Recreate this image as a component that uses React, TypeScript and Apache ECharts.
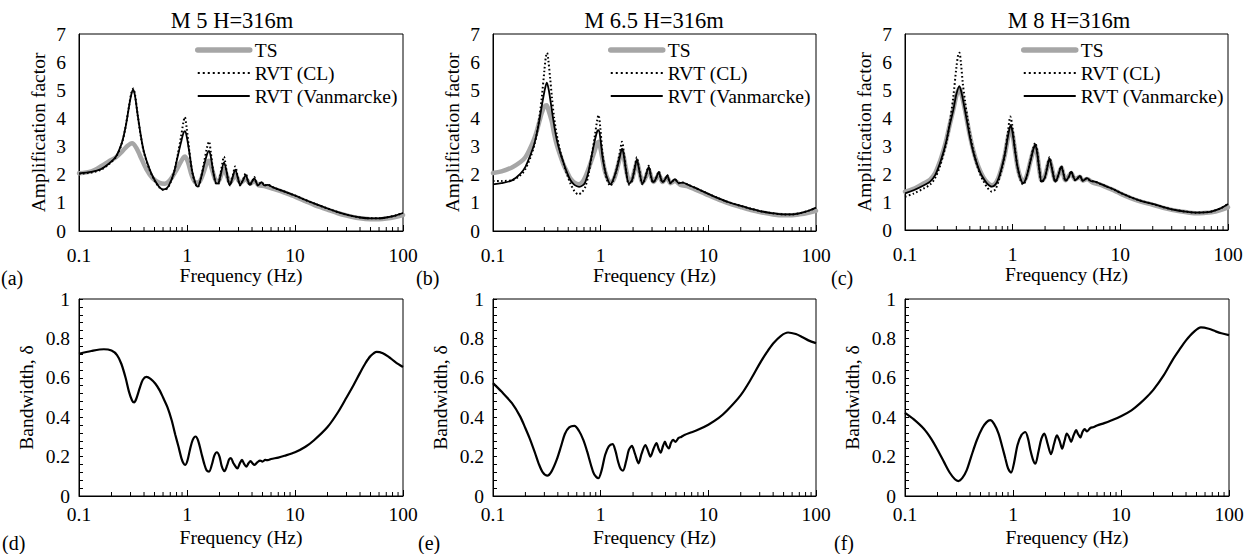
import React, { useEffect, useRef } from 'react';
import * as echarts from 'echarts';

const FONT = 'Liberation Serif';

const titles = ['M 5 H=316m', 'M 6.5 H=316m', 'M 8 H=316m'];
const panelLabels = ['(a)', '(b)', '(c)', '(d)', '(e)', '(f)'];
const seriesNames = ['TS', 'RVT (CL)', 'RVT (Vanmarcke)'];
const xAxisName = 'Frequency (Hz)';
const topYName = 'Amplification factor';
const bottomYName = 'Bandwidth, δ';
const minorTicks = [0.2, 0.3, 0.4, 0.5, 0.6, 0.7, 0.8, 0.9, 2, 3, 4, 5, 6, 7, 8, 9, 20, 30, 40, 50, 60, 70, 80, 90];

type P = [number, number][];

// ---- M 5 ----
const m5TS: P = [[0.1, 2.05], [0.13, 2.12], [0.16, 2.3], [0.19, 2.48], [0.22, 2.62], [0.25, 2.82], [0.28, 3.02], [0.31, 3.12], [0.34, 2.95], [0.37, 2.65], [0.42, 2.2], [0.48, 1.88], [0.55, 1.72], [0.62, 1.68], [0.7, 1.82], [0.78, 2.1], [0.86, 2.4], [0.93, 2.62], [0.96, 2.65], [1.02, 2.45], [1.1, 2.0], [1.2, 1.72], [1.28, 1.72], [1.4, 2.0], [1.52, 2.4], [1.6, 2.5], [1.7, 2.2], [1.85, 1.78], [1.95, 1.76], [2.1, 2.05], [2.2, 2.2], [2.35, 1.95], [2.5, 1.72], [2.65, 1.85], [2.8, 2.0], [3.0, 1.8], [3.15, 1.72], [3.5, 1.85], [3.85, 1.68], [4.2, 1.78], [4.6, 1.62], [5.2, 1.6], [6, 1.52], [7, 1.44], [8, 1.36], [10, 1.22], [12.5, 1.06], [15, 0.93], [20, 0.76], [25, 0.63], [30, 0.55], [40, 0.45], [50, 0.42], [60, 0.42], [70, 0.44], [85, 0.5], [100, 0.57]];
const m5CL: P = [[0.1, 2.03], [0.13, 2.08], [0.16, 2.18], [0.19, 2.38], [0.22, 2.63], [0.25, 3.13], [0.27, 3.7], [0.29, 4.42], [0.305, 4.9], [0.318, 5.06], [0.33, 4.85], [0.35, 4.1], [0.375, 3.33], [0.4, 2.78], [0.45, 2.18], [0.5, 1.8], [0.55, 1.56], [0.6, 1.46], [0.65, 1.5], [0.7, 1.7], [0.76, 2.1], [0.82, 2.7], [0.88, 3.35], [0.93, 3.9], [0.955, 4.05], [0.99, 3.7], [1.05, 2.85], [1.12, 2.08], [1.2, 1.66], [1.26, 1.56], [1.34, 1.85], [1.44, 2.45], [1.54, 3.0], [1.6, 3.18], [1.66, 2.8], [1.76, 2.05], [1.88, 1.66], [1.96, 1.68], [2.08, 2.2], [2.2, 2.64], [2.3, 2.25], [2.42, 1.74], [2.5, 1.62], [2.62, 1.87], [2.8, 2.29], [2.95, 1.92], [3.1, 1.62], [3.28, 1.8], [3.5, 2.05], [3.65, 1.8], [3.82, 1.63], [4.0, 1.76], [4.2, 1.92], [4.35, 1.75], [4.55, 1.62], [4.9, 1.75], [5.2, 1.62], [5.6, 1.64], [6.2, 1.56], [7, 1.48], [8, 1.4], [10, 1.26], [12.5, 1.1], [15, 0.98], [20, 0.8], [25, 0.67], [30, 0.58], [40, 0.48], [50, 0.45], [60, 0.45], [70, 0.48], [85, 0.55], [100, 0.64]];
const m5Van: P = [[0.1, 2.05], [0.13, 2.1], [0.16, 2.2], [0.19, 2.4], [0.22, 2.65], [0.25, 3.15], [0.27, 3.7], [0.29, 4.4], [0.305, 4.85], [0.318, 5.02], [0.33, 4.8], [0.35, 4.1], [0.375, 3.35], [0.4, 2.8], [0.45, 2.2], [0.5, 1.82], [0.55, 1.58], [0.6, 1.48], [0.65, 1.52], [0.7, 1.72], [0.76, 2.1], [0.82, 2.65], [0.88, 3.15], [0.93, 3.5], [0.96, 3.55], [1.0, 3.3], [1.05, 2.8], [1.12, 2.1], [1.2, 1.68], [1.26, 1.58], [1.34, 1.85], [1.44, 2.35], [1.54, 2.75], [1.6, 2.85], [1.67, 2.6], [1.76, 2.05], [1.88, 1.68], [1.96, 1.7], [2.08, 2.1], [2.2, 2.44], [2.3, 2.2], [2.42, 1.75], [2.5, 1.64], [2.62, 1.85], [2.8, 2.18], [2.95, 1.9], [3.1, 1.64], [3.28, 1.78], [3.5, 1.99], [3.65, 1.8], [3.82, 1.64], [4.0, 1.75], [4.2, 1.88], [4.35, 1.75], [4.55, 1.62], [4.9, 1.74], [5.2, 1.62], [5.6, 1.64], [6.2, 1.56], [7, 1.48], [8, 1.4], [10, 1.26], [12.5, 1.1], [15, 0.98], [20, 0.8], [25, 0.67], [30, 0.58], [40, 0.48], [50, 0.45], [60, 0.45], [70, 0.48], [85, 0.55], [100, 0.64]];

// ---- M 6.5 ----
const m65TS: P = [[0.1, 2.06], [0.12, 2.12], [0.15, 2.26], [0.18, 2.45], [0.2, 2.62], [0.222, 2.95], [0.24, 3.25], [0.255, 3.55], [0.27, 3.9], [0.284, 4.2], [0.3, 4.42], [0.315, 4.47], [0.33, 4.25], [0.352, 3.88], [0.37, 3.45], [0.392, 3.05], [0.42, 2.7], [0.454, 2.34], [0.49, 2.08], [0.525, 1.86], [0.57, 1.72], [0.63, 1.66], [0.68, 1.75], [0.72, 1.92], [0.77, 2.2], [0.82, 2.5], [0.88, 2.85], [0.93, 3.12], [0.96, 3.17], [1.0, 2.9], [1.04, 2.55], [1.1, 2.1], [1.18, 1.8], [1.25, 1.72], [1.33, 1.85], [1.43, 2.25], [1.52, 2.65], [1.58, 2.87], [1.64, 2.62], [1.75, 2.05], [1.85, 1.74], [1.95, 1.82], [2.07, 2.18], [2.17, 2.45], [2.28, 2.15], [2.45, 1.72], [2.6, 1.88], [2.8, 2.18], [2.95, 1.9], [3.1, 1.74], [3.47, 2.0], [3.75, 1.74], [4.15, 1.9], [4.45, 1.7], [4.9, 1.78], [5.5, 1.64], [6.5, 1.58], [7.5, 1.48], [9, 1.35], [10, 1.27], [12.5, 1.11], [15, 1.0], [20, 0.85], [25, 0.74], [30, 0.67], [40, 0.59], [50, 0.56], [60, 0.56], [70, 0.59], [85, 0.65], [100, 0.72]];
const m65CL: P = [[0.1, 1.78], [0.12, 1.78], [0.15, 1.8], [0.18, 1.98], [0.2, 2.2], [0.222, 2.6], [0.24, 3.0], [0.255, 3.45], [0.27, 4.05], [0.284, 4.75], [0.3, 5.7], [0.31, 6.2], [0.318, 6.33], [0.326, 6.1], [0.34, 5.4], [0.352, 4.77], [0.37, 4.0], [0.392, 3.4], [0.42, 2.85], [0.454, 2.38], [0.49, 1.98], [0.525, 1.68], [0.57, 1.42], [0.62, 1.3], [0.67, 1.38], [0.72, 1.57], [0.77, 2.0], [0.82, 2.6], [0.88, 3.35], [0.93, 3.95], [0.955, 4.12], [0.99, 3.7], [1.04, 2.75], [1.09, 2.2], [1.14, 1.85], [1.23, 1.6], [1.3, 1.76], [1.4, 2.16], [1.5, 2.75], [1.58, 3.17], [1.64, 2.8], [1.72, 2.15], [1.83, 1.65], [1.95, 1.78], [2.07, 2.25], [2.17, 2.62], [2.27, 2.22], [2.45, 1.66], [2.6, 1.9], [2.8, 2.32], [2.93, 1.95], [3.07, 1.72], [3.25, 1.85], [3.47, 2.12], [3.6, 1.9], [3.75, 1.73], [3.95, 1.82], [4.15, 1.99], [4.3, 1.82], [4.45, 1.7], [4.9, 1.84], [5.3, 1.7], [5.8, 1.72], [6.5, 1.64], [7.5, 1.54], [9, 1.4], [10, 1.32], [12.5, 1.16], [15, 1.04], [20, 0.89], [25, 0.79], [30, 0.71], [40, 0.63], [50, 0.59], [60, 0.59], [70, 0.63], [85, 0.72], [100, 0.82]];
const m65Van: P = [[0.1, 1.66], [0.12, 1.7], [0.15, 1.8], [0.18, 2.04], [0.2, 2.28], [0.222, 2.69], [0.24, 3.05], [0.255, 3.46], [0.27, 3.95], [0.284, 4.45], [0.3, 4.95], [0.316, 5.27], [0.33, 5.0], [0.352, 4.29], [0.37, 3.75], [0.392, 3.23], [0.42, 2.8], [0.454, 2.4], [0.49, 2.05], [0.525, 1.8], [0.57, 1.64], [0.63, 1.57], [0.68, 1.62], [0.72, 1.74], [0.77, 2.1], [0.82, 2.63], [0.88, 3.2], [0.93, 3.55], [0.96, 3.58], [1.0, 3.2], [1.04, 2.63], [1.09, 2.2], [1.14, 1.92], [1.23, 1.66], [1.3, 1.8], [1.4, 2.16], [1.5, 2.6], [1.58, 2.93], [1.64, 2.7], [1.72, 2.15], [1.83, 1.68], [1.95, 1.8], [2.07, 2.2], [2.17, 2.54], [2.27, 2.2], [2.45, 1.68], [2.6, 1.9], [2.8, 2.28], [2.93, 1.95], [3.07, 1.74], [3.25, 1.85], [3.47, 2.1], [3.6, 1.9], [3.75, 1.74], [3.95, 1.82], [4.15, 1.98], [4.3, 1.82], [4.45, 1.71], [4.9, 1.84], [5.3, 1.7], [5.8, 1.72], [6.5, 1.64], [7.5, 1.54], [9, 1.4], [10, 1.32], [12.5, 1.16], [15, 1.04], [20, 0.89], [25, 0.79], [30, 0.71], [40, 0.63], [50, 0.59], [60, 0.59], [70, 0.63], [85, 0.72], [100, 0.83]];

// ---- M 8 ----
const m8TS: P = [[0.1, 1.37], [0.12, 1.47], [0.15, 1.67], [0.171, 1.8], [0.19, 2.02], [0.211, 2.45], [0.228, 2.85], [0.243, 3.25], [0.26, 3.75], [0.281, 4.3], [0.3, 4.8], [0.32, 5.06], [0.335, 4.85], [0.36, 4.3], [0.38, 3.82], [0.4, 3.38], [0.43, 2.85], [0.464, 2.42], [0.5, 2.1], [0.535, 1.88], [0.58, 1.7], [0.64, 1.6], [0.69, 1.66], [0.74, 1.88], [0.8, 2.3], [0.85, 2.72], [0.91, 3.35], [0.96, 3.65], [1.0, 3.4], [1.05, 2.85], [1.11, 2.25], [1.18, 1.88], [1.25, 1.72], [1.34, 1.9], [1.45, 2.4], [1.56, 2.85], [1.62, 2.98], [1.69, 2.72], [1.77, 2.15], [1.86, 1.77], [1.98, 1.88], [2.1, 2.25], [2.2, 2.5], [2.3, 2.25], [2.5, 1.77], [2.65, 1.95], [2.83, 2.22], [3.1, 1.78], [3.5, 2.03], [3.8, 1.8], [4.2, 1.9], [4.5, 1.76], [4.9, 1.82], [5.5, 1.7], [6.5, 1.62], [7.5, 1.52], [9, 1.39], [10, 1.3], [12.5, 1.14], [15, 1.03], [20, 0.9], [25, 0.79], [30, 0.72], [40, 0.64], [50, 0.6], [60, 0.61], [70, 0.63], [85, 0.71], [100, 0.81]];
const m8CL: P = [[0.1, 1.19], [0.12, 1.3], [0.15, 1.49], [0.171, 1.62], [0.19, 1.85], [0.211, 2.27], [0.228, 2.72], [0.243, 3.15], [0.26, 3.8], [0.281, 4.76], [0.3, 5.8], [0.313, 6.3], [0.32, 6.33], [0.33, 6.0], [0.345, 5.2], [0.36, 4.64], [0.38, 4.0], [0.4, 3.45], [0.43, 2.85], [0.464, 2.35], [0.5, 1.98], [0.535, 1.75], [0.58, 1.52], [0.64, 1.37], [0.69, 1.45], [0.74, 1.75], [0.8, 2.25], [0.85, 2.75], [0.91, 3.6], [0.95, 4.05], [0.99, 3.75], [1.05, 2.9], [1.11, 2.25], [1.18, 1.8], [1.25, 1.62], [1.34, 1.85], [1.45, 2.42], [1.56, 2.95], [1.62, 3.12], [1.69, 2.8], [1.77, 2.15], [1.86, 1.7], [1.98, 1.83], [2.1, 2.28], [2.2, 2.6], [2.3, 2.27], [2.42, 1.85], [2.5, 1.72], [2.65, 1.95], [2.83, 2.28], [2.97, 2.0], [3.1, 1.75], [3.3, 1.88], [3.5, 2.1], [3.65, 1.92], [3.8, 1.78], [4.0, 1.84], [4.2, 1.94], [4.35, 1.84], [4.5, 1.76], [4.9, 1.85], [5.3, 1.75], [5.8, 1.73], [6.5, 1.65], [7.5, 1.55], [9, 1.42], [10, 1.33], [12.5, 1.17], [15, 1.06], [20, 0.93], [25, 0.82], [30, 0.74], [40, 0.66], [50, 0.62], [60, 0.63], [70, 0.66], [85, 0.77], [100, 0.93]];
const m8Van: P = [[0.1, 1.31], [0.12, 1.42], [0.15, 1.6], [0.171, 1.73], [0.19, 1.95], [0.211, 2.38], [0.228, 2.8], [0.243, 3.21], [0.26, 3.75], [0.281, 4.29], [0.3, 4.85], [0.32, 5.14], [0.335, 4.9], [0.36, 4.29], [0.38, 3.8], [0.4, 3.33], [0.43, 2.8], [0.464, 2.38], [0.5, 2.05], [0.535, 1.85], [0.58, 1.66], [0.64, 1.55], [0.69, 1.62], [0.74, 1.85], [0.8, 2.3], [0.85, 2.74], [0.91, 3.4], [0.96, 3.75], [1.0, 3.45], [1.05, 2.86], [1.11, 2.25], [1.18, 1.85], [1.25, 1.67], [1.34, 1.88], [1.45, 2.4], [1.56, 2.9], [1.62, 3.04], [1.69, 2.75], [1.77, 2.15], [1.86, 1.73], [1.98, 1.85], [2.1, 2.25], [2.2, 2.56], [2.3, 2.25], [2.42, 1.85], [2.5, 1.73], [2.65, 1.95], [2.83, 2.26], [2.97, 2.0], [3.1, 1.76], [3.3, 1.88], [3.5, 2.08], [3.65, 1.92], [3.8, 1.79], [4.0, 1.84], [4.2, 1.93], [4.35, 1.84], [4.5, 1.76], [4.9, 1.85], [5.3, 1.75], [5.8, 1.73], [6.5, 1.65], [7.5, 1.55], [9, 1.42], [10, 1.33], [12.5, 1.17], [15, 1.06], [20, 0.93], [25, 0.82], [30, 0.74], [40, 0.66], [50, 0.62], [60, 0.63], [70, 0.66], [85, 0.77], [100, 0.93]];

// ---- Bandwidth ----
const bw5: P = [[0.1, 0.722], [0.13, 0.736], [0.17, 0.745], [0.2, 0.738], [0.225, 0.715], [0.247, 0.67], [0.27, 0.6], [0.29, 0.53], [0.31, 0.485], [0.324, 0.475], [0.34, 0.495], [0.366, 0.55], [0.39, 0.59], [0.421, 0.605], [0.46, 0.595], [0.51, 0.57], [0.56, 0.535], [0.6, 0.5], [0.66, 0.45], [0.72, 0.386], [0.78, 0.31], [0.83, 0.255], [0.89, 0.19], [0.93, 0.165], [0.965, 0.158], [1.01, 0.18], [1.07, 0.24], [1.13, 0.285], [1.2, 0.302], [1.27, 0.28], [1.36, 0.217], [1.45, 0.16], [1.52, 0.13], [1.6, 0.124], [1.7, 0.16], [1.79, 0.205], [1.89, 0.222], [2.0, 0.2], [2.1, 0.15], [2.22, 0.126], [2.35, 0.155], [2.45, 0.185], [2.55, 0.192], [2.7, 0.165], [2.93, 0.14], [3.08, 0.165], [3.23, 0.183], [3.38, 0.163], [3.54, 0.149], [3.7, 0.165], [3.88, 0.177], [4.05, 0.165], [4.22, 0.158], [4.5, 0.172], [4.75, 0.18], [5.0, 0.175], [5.3, 0.183], [5.6, 0.182], [6.0, 0.188], [7.0, 0.195], [8, 0.204], [10, 0.222], [12.5, 0.25], [15, 0.283], [20, 0.35], [25, 0.425], [30, 0.5], [35, 0.565], [40, 0.625], [45, 0.675], [50, 0.71], [57, 0.732], [65, 0.725], [75, 0.703], [85, 0.68], [100, 0.655]];
const bw65: P = [[0.1, 0.573], [0.12, 0.53], [0.15, 0.471], [0.179, 0.403], [0.2, 0.344], [0.22, 0.29], [0.245, 0.22], [0.265, 0.166], [0.29, 0.12], [0.32, 0.103], [0.35, 0.125], [0.39, 0.183], [0.43, 0.255], [0.465, 0.315], [0.51, 0.348], [0.57, 0.356], [0.63, 0.33], [0.69, 0.285], [0.75, 0.225], [0.81, 0.16], [0.87, 0.11], [0.95, 0.09], [1.02, 0.13], [1.1, 0.208], [1.19, 0.252], [1.29, 0.263], [1.37, 0.23], [1.45, 0.175], [1.53, 0.138], [1.61, 0.129], [1.72, 0.175], [1.83, 0.235], [1.95, 0.254], [2.08, 0.215], [2.25, 0.166], [2.4, 0.215], [2.6, 0.259], [2.75, 0.23], [2.9, 0.2], [3.1, 0.24], [3.3, 0.268], [3.45, 0.24], [3.6, 0.22], [3.8, 0.255], [3.95, 0.276], [4.1, 0.255], [4.3, 0.242], [4.5, 0.27], [4.7, 0.285], [4.95, 0.275], [5.3, 0.295], [5.6, 0.3], [6.0, 0.31], [7, 0.324], [8, 0.336], [10, 0.362], [12.5, 0.396], [15, 0.435], [20, 0.512], [25, 0.595], [30, 0.672], [35, 0.73], [40, 0.774], [47, 0.812], [55, 0.83], [65, 0.822], [75, 0.806], [85, 0.79], [100, 0.776]];
const bw8: P = [[0.1, 0.422], [0.12, 0.39], [0.15, 0.34], [0.175, 0.29], [0.2, 0.235], [0.23, 0.172], [0.26, 0.118], [0.29, 0.085], [0.312, 0.076], [0.34, 0.092], [0.372, 0.13], [0.41, 0.2], [0.462, 0.283], [0.52, 0.345], [0.57, 0.375], [0.615, 0.385], [0.67, 0.365], [0.735, 0.317], [0.8, 0.245], [0.85, 0.19], [0.9, 0.14], [0.96, 0.119], [1.02, 0.165], [1.1, 0.258], [1.2, 0.31], [1.3, 0.325], [1.38, 0.29], [1.45, 0.232], [1.53, 0.185], [1.61, 0.164], [1.72, 0.225], [1.83, 0.29], [1.95, 0.317], [2.08, 0.27], [2.25, 0.212], [2.4, 0.265], [2.55, 0.308], [2.7, 0.28], [2.85, 0.24], [3.0, 0.28], [3.15, 0.317], [3.3, 0.3], [3.45, 0.275], [3.65, 0.31], [3.85, 0.334], [4.0, 0.315], [4.2, 0.297], [4.4, 0.325], [4.6, 0.339], [4.85, 0.328], [5.2, 0.345], [5.6, 0.35], [6.0, 0.358], [7, 0.37], [8, 0.382], [10, 0.405], [12.5, 0.435], [15, 0.47], [17.5, 0.505], [20, 0.54], [25, 0.615], [30, 0.69], [35, 0.745], [40, 0.79], [47, 0.832], [55, 0.856], [65, 0.849], [75, 0.836], [85, 0.826], [100, 0.817]];

const topData = [[m5TS, m5CL, m5Van], [m65TS, m65CL, m65Van], [m8TS, m8CL, m8Van]];
const bottomData = [bw5, bw65, bw8];

// layout (pixels)
const grids = [
  { left: 79, top: 34, width: 324, height: 197 },
  { left: 493, top: 34, width: 323, height: 197 },
  { left: 905, top: 34, width: 323, height: 196 },
  { left: 79, top: 299, width: 324, height: 197 },
  { left: 493, top: 299, width: 323, height: 197 },
  { left: 905, top: 299, width: 324, height: 197 },
];
const titleX = [232, 654, 1069];
const legendX = [195, 608, 1021];
const labelPos = [[1, 278], [416, 278], [831, 278], [2, 543], [418, 543], [834, 543]];

const TS_COLOR = '#a6a6a6';

export default function App() {
  const ref = useRef<HTMLDivElement>(null);
  useEffect(() => {
    if (!ref.current) return;
    const chart = echarts.init(ref.current, null, { renderer: 'svg' });
    const text = { fontFamily: FONT, fontSize: 19.5, color: '#000' };

    const xAxis = grids.map((_, i) => ({
      type: 'log', logBase: 10, min: 0.1, max: 100, gridIndex: i,
      axisLine: { lineStyle: { color: '#000', width: 1 } },
      axisTick: { show: true, inside: true, length: 6, lineStyle: { color: '#000', width: 1 } },
      minorTick: { show: false },
      splitLine: { show: false },
      axisLabel: { ...text, margin: i < 3 ? 14 : 8 },
      name: xAxisName, nameLocation: 'middle', nameGap: i < 3 ? 33 : 31,
      nameTextStyle: text,
    }));
    const yAxis = grids.map((_, i) => i < 3 ? ({
      type: 'value', min: 0, max: 7, interval: 1, gridIndex: i,
      axisLine: { show: true, lineStyle: { color: '#000', width: 1 } },
      axisTick: { show: false },
      splitLine: { show: false },
      axisLabel: { ...text, margin: 13 },
      name: topYName, nameLocation: 'middle', nameGap: 31, nameTextStyle: text,
    }) : ({
      type: 'value', min: 0, max: 1, interval: 0.2, gridIndex: i,
      axisLine: { show: true, lineStyle: { color: '#000', width: 1 } },
      axisTick: { show: true, inside: true, length: 4, lineStyle: { color: '#000', width: 1 } },
      minorTick: { show: true, splitNumber: 5, length: 4, lineStyle: { color: '#000', width: 1 } },
      splitLine: { show: false },
      axisLabel: { ...text, margin: 9 },
      name: bottomYName, nameLocation: 'middle', nameGap: 43, nameTextStyle: text,
    }));

    const series: any[] = [];
    topData.forEach((group, i) => {
      series.push({
        name: seriesNames[0], type: 'line', xAxisIndex: i, yAxisIndex: i, data: group[0],
        symbol: 'none', smooth: 0.3, z: 2,
        lineStyle: { color: TS_COLOR, width: 4.5, cap: 'round', join: 'round' }, itemStyle: { color: TS_COLOR },
      });
      series.push({
        name: seriesNames[1], type: 'line', xAxisIndex: i, yAxisIndex: i, data: group[1],
        symbol: 'none', smooth: 0.3, z: 3,
        lineStyle: { color: '#000', width: 2, type: [1.6, 2.4] }, itemStyle: { color: '#000' },
      });
      series.push({
        name: seriesNames[2], type: 'line', xAxisIndex: i, yAxisIndex: i, data: group[2],
        symbol: 'none', smooth: 0.3, z: 4,
        lineStyle: { color: '#000', width: 1.8 }, itemStyle: { color: '#000' },
      });
    });
    bottomData.forEach((d, j) => {
      const i = j + 3;
      series.push({
        name: 'bandwidth' + j, type: 'line', xAxisIndex: i, yAxisIndex: i, data: d,
        symbol: 'none', smooth: 0.3, z: 4,
        lineStyle: { color: '#000', width: 2.2 },
      });
    });
    grids.forEach((_, i) => {
      series.push({
        name: 'minor' + i, type: 'custom', xAxisIndex: i, yAxisIndex: i, silent: true, clip: false, z: 6,
        data: minorTicks.map((v) => [v, 0]),
        encode: { x: 0, y: 1 },
        renderItem: (params: any, api: any) => {
          const p = api.coord([api.value(0), api.value(1)]);
          return {
            type: 'line',
            shape: { x1: p[0], y1: p[1], x2: p[0], y2: p[1] - 4 },
            style: { stroke: '#000', lineWidth: 1 },
          };
        },
      });
    });

    const legend = legendX.map((x) => ({
      orient: 'vertical', left: x, top: 40, itemWidth: 52, itemHeight: 10, itemGap: 3,
      padding: 0, selectedMode: false,
      itemStyle: { color: 'rgba(0,0,0,0)', borderWidth: 0 },
      textStyle: { ...text },
      data: [
        { name: seriesNames[0], lineStyle: { width: 5.5, color: TS_COLOR } },
        { name: seriesNames[1], lineStyle: { width: 2, color: '#000', type: [2, 3] } },
        { name: seriesNames[2], lineStyle: { width: 2, color: '#000' } },
      ],
    }));

    chart.setOption({
      animation: false,
      backgroundColor: '#fff',
      textStyle: { fontFamily: FONT },
      title: titles.map((t, i) => ({
        text: t, left: titleX[i], top: 9, textAlign: 'center', padding: 0,
        textStyle: { fontFamily: FONT, fontSize: 22.5, fontWeight: 'normal', color: '#000' },
      })),
      legend,
      grid: grids.map((g) => ({ ...g, show: true, borderColor: '#000', borderWidth: 1, backgroundColor: 'transparent', containLabel: false })),
      xAxis, yAxis, series,
      graphic: panelLabels.map((l, i) => ({
        type: 'text', x: labelPos[i][0], y: labelPos[i][1],
        style: { text: l, fontFamily: FONT, fontSize: 20, fill: '#000', verticalAlign: 'middle', align: 'left' },
      })),
    });
    return () => chart.dispose();
  }, []);
  return <div ref={ref} style={{ position: 'fixed', left: 0, top: 0, width: 1255, height: 554 }} />;
}
